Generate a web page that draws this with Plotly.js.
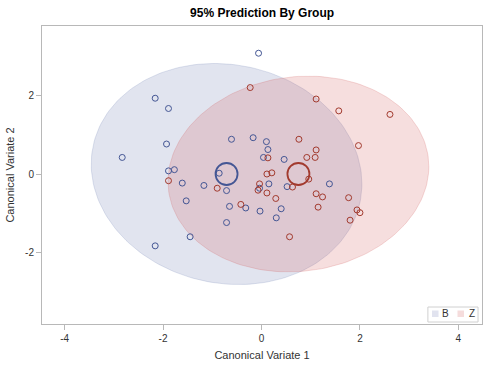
<!DOCTYPE html>
<html>
<head>
<meta charset="utf-8">
<script src="https://cdn.plot.ly/plotly-3.0.1.min.js"></script>
<style>html,body{margin:0;padding:0;background:#fff;}#chart{width:488px;height:368px;}</style>
</head>
<body>
<div id="chart"></div>
<script>
// Group labels
const groups = ["B", "Z"];

// Group B observations (Canonical Variate 1, 2)
const bX = [-0.06, -2.16, -1.89, -1.93, -2.83, -1.89, -1.77, -0.61, -0.17, 0.10, 0.13, 0.04, 0.46, -0.86, -1.61,
            -1.17, -0.71, -1.53, -0.65, -0.32, -0.71, -1.45, -2.16, 0.15, -0.04, -0.03, 0.40, 0.30, 0.52, 1.38];
const bY = [3.06, 1.92, 1.66, 0.76, 0.42, 0.08, 0.11, 0.88, 0.92, 0.82, 0.62, 0.42, 0.37, 0.02, -0.23,
            -0.29, -0.42, -0.68, -0.82, -0.86, -1.23, -1.59, -1.82, -0.25, -0.36, -0.94, -0.88, -1.11, -0.32, -0.25];

// Group Z observations
const zX = [-0.23, 0.13, 0.11, 0.21, 0.76, -1.89, -0.90, -0.42, -0.04, -0.07, 0.11, 0.29, 0.57, 0.63, 1.11,
            1.57, 2.61, 1.97, 1.11, 0.92, 1.09, 0.96, 1.11, 1.24, 1.15, 1.77, 1.94, 2.00, 1.80];
const zY = [2.19, 0.41, 0.00, 0.03, 0.88, -0.17, -0.36, -0.77, -0.25, -0.41, -0.48, -0.62, -1.59, -0.33, 1.90,
            1.60, 1.51, 0.72, 0.61, 0.42, 0.42, -0.13, -0.50, -0.58, -0.84, -0.60, -0.91, -0.98, -1.17];

// Group means
const meanX = [-0.71, 0.75];
const meanY = [0.0, 0.0];

// 95% prediction ellipse parameters (scaled covariance: sxx, syy, sxy)
const ellSxx = [7.56, 7.02];
const ellSyy = [7.84, 6.15];
const ellSxy = [-0.69, 0.50];

// Axis ticks
const xTicks = [-4, -2, 0, 2, 4];
const yTicks = [-2, 0, 2];

const fillCols = ["rgba(111,126,179,0.21)", "rgba(208,91,91,0.20)"];
const edgeCols = ["rgba(111,126,179,0.22)", "rgba(208,91,91,0.22)"];
const swatchCols = ["#e1e3ef", "#f5dcdc"];
const markCols = ["#445694", "#A23A2E"];

function ellipse(i) {
  const a = ellSxx[i], b = ellSyy[i], c = ellSxy[i];
  const l11 = Math.sqrt(a), l21 = c / l11, l22 = Math.sqrt(b - l21 * l21);
  const xs = [], ys = [];
  const n = 180;
  for (let k = 0; k <= n; k++) {
    const t = 2 * Math.PI * k / n;
    const u = Math.cos(t), v = Math.sin(t);
    xs.push(meanX[i] + l11 * u);
    ys.push(meanY[i] + l21 * u + l22 * v);
  }
  return {x: xs, y: ys};
}

const traces = [];
for (let i = 0; i < 2; i++) {
  const e = ellipse(i);
  traces.push({
    x: e.x, y: e.y, type: "scatter", mode: "lines", fill: "toself",
    fillcolor: fillCols[i], line: {color: edgeCols[i], width: 1},
    name: groups[i], showlegend: false, hoverinfo: "skip"
  });
}
const ptsX = [bX, zX], ptsY = [bY, zY];
for (let i = 0; i < 2; i++) {
  traces.push({
    x: ptsX[i], y: ptsY[i], type: "scatter", mode: "markers", showlegend: false,
    marker: {symbol: "circle-open", size: 6, color: markCols[i], line: {width: 1, color: markCols[i]}}
  });
}
for (let i = 0; i < 2; i++) {
  traces.push({
    x: [meanX[i]], y: [meanY[i]], type: "scatter", mode: "markers", showlegend: false,
    marker: {symbol: "circle-open", size: 22, color: markCols[i], line: {width: 1.8, color: markCols[i]}}
  });
}

const font = "Liberation Sans, Arial, sans-serif";

// compact legend drawn in paper coordinates
const swX0 = [0.8864, 0.9443];
const txtX = [0.9165, 0.9766];
const shapes = [{
  type: "rect", xref: "paper", yref: "paper", x0: 0.877, x1: 0.991, y0: 0.0067, y1: 0.057,
  line: {color: "#d0d0d0", width: 1}, fillcolor: "#fff", layer: "above"
}];
const annotations = [];
for (let i = 0; i < 2; i++) {
  shapes.push({
    type: "rect", xref: "paper", yref: "paper", x0: swX0[i], x1: swX0[i] + 0.0148, y0: 0.0235, y1: 0.0453,
    line: {width: 0}, fillcolor: swatchCols[i], layer: "above"
  });
  annotations.push({
    xref: "paper", yref: "paper", x: txtX[i], y: 0.034, text: groups[i], showarrow: false,
    xanchor: "center", yanchor: "middle", font: {family: font, size: 10, color: "#333"}
  });
}

const layout = {
  width: 488, height: 368,
  margin: {l: 42, r: 6, t: 26, b: 44},
  paper_bgcolor: "#fff", plot_bgcolor: "#fff",
  font: {family: font, size: 10, color: "#333"},
  title: {text: "<b>95% Prediction By Group</b>", x: 0.537, xanchor: "center", y: 0.965, yanchor: "middle",
          font: {family: font, size: 12, color: "#000"}},
  xaxis: {
    range: [-4.46, 4.48], tickvals: xTicks, ticktext: xTicks.map(String),
    showgrid: false, zeroline: false, showline: true, mirror: true, linecolor: "#b8b8b8", linewidth: 1,
    ticks: "outside", ticklen: 5, tickcolor: "#b8b8b8",
    tickfont: {family: font, size: 10, color: "#333"},
    title: {text: "Canonical Variate 1", font: {family: font, size: 11, color: "#333"}, standoff: 8}
  },
  yaxis: {
    range: [-3.8, 3.75], tickvals: yTicks, ticktext: yTicks.map(String),
    showgrid: false, zeroline: false, showline: true, mirror: true, linecolor: "#b8b8b8", linewidth: 1,
    ticks: "outside", ticklen: 5, tickcolor: "#b8b8b8",
    tickfont: {family: font, size: 10, color: "#333"},
    title: {text: "Canonical Variate 2", font: {family: font, size: 11, color: "#333"}, standoff: 8}
  },
  showlegend: false,
  shapes: shapes,
  annotations: annotations
};

Plotly.newPlot("chart", traces, layout, {displayModeBar: false, staticPlot: true});
</script>
</body>
</html>
